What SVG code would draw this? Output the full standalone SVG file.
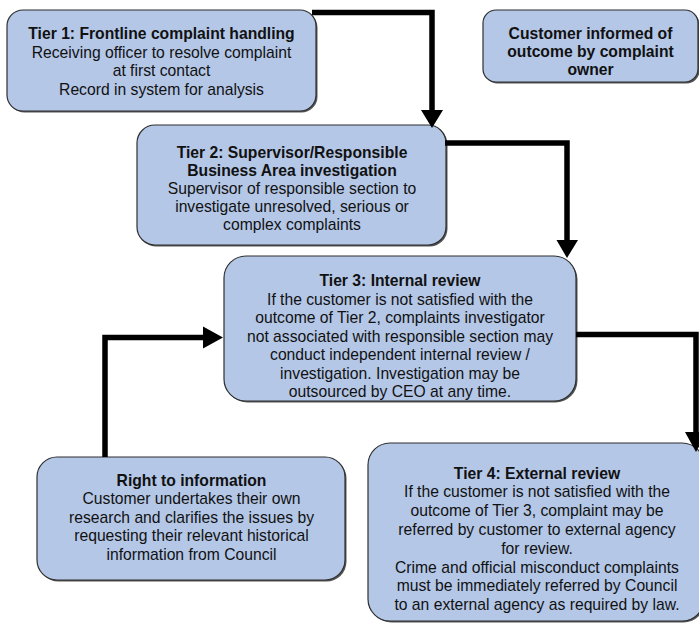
<svg xmlns="http://www.w3.org/2000/svg" width="699" height="625" viewBox="0 0 699 625">
<style>
.box{fill:#b4c7e7;stroke:#2f2f2f;stroke-width:1.2}
.sh{fill:#555}
text{font-family:"Liberation Sans",Arial,sans-serif;font-size:15.7px;fill:#111;text-anchor:middle}
.b{font-weight:bold}
.ln{fill:none;stroke:#000;stroke-width:5.5;stroke-linejoin:miter}
.hd{fill:#000}
</style>
<rect width="699" height="625" fill="#fff"/>
<g id="tier1">
<rect class="sh" x="8.5" y="11.5" width="309" height="101" rx="16"/>
<rect class="box" x="7" y="10" width="309" height="101" rx="16"/>
<text x="161.5" y="39" class="b">Tier 1: Frontline complaint handling</text>
<text x="161.5" y="57.5">Receiving officer to resolve complaint</text>
<text x="161.5" y="76">at first contact</text>
<text x="161.5" y="94.5">Record in system for analysis</text>
</g>
<g id="customer-informed">
<rect class="sh" x="484.5" y="11.5" width="215" height="72" rx="13"/>
<rect class="box" x="483" y="10" width="215" height="72" rx="13"/>
<text x="590.5" y="39" class="b">Customer informed of</text>
<text x="590.5" y="57" class="b">outcome by complaint</text>
<text x="590.5" y="75" class="b">owner</text>
</g>
<g id="tier2">
<rect class="sh" x="138.5" y="126.5" width="309" height="120" rx="18"/>
<rect class="box" x="137" y="125" width="309" height="120" rx="18"/>
<text x="292" y="157.5" class="b">Tier 2: Supervisor/Responsible</text>
<text x="292" y="175.5" class="b">Business Area investigation</text>
<text x="292" y="193.5">Supervisor of responsible section to</text>
<text x="292" y="211.5">investigate unresolved, serious or</text>
<text x="292" y="229.5">complex complaints</text>
</g>
<g id="tier3">
<rect class="sh" x="225.5" y="257.5" width="352" height="145" rx="22"/>
<rect class="box" x="224" y="256" width="352" height="145" rx="22"/>
<text x="400" y="286" class="b">Tier 3: Internal review</text>
<text x="400" y="304.5">If the customer is not satisfied with the</text>
<text x="400" y="323">outcome of Tier 2, complaints investigator</text>
<text x="400" y="341.5">not associated with responsible section may</text>
<text x="400" y="360">conduct independent internal review /</text>
<text x="400" y="378.5">investigation. Investigation may be</text>
<text x="400" y="397">outsourced by CEO at any time.</text>
</g>
<g id="right-to-information">
<rect class="sh" x="38.5" y="458.5" width="308" height="123" rx="20"/>
<rect class="box" x="37" y="457" width="308" height="123" rx="20"/>
<text x="191.5" y="485.5" class="b">Right to information</text>
<text x="191.5" y="504">Customer undertakes their own</text>
<text x="191.5" y="522.5">research and clarifies the issues by</text>
<text x="191.5" y="541">requesting their relevant historical</text>
<text x="191.5" y="559.5">information from Council</text>
</g>
<g id="tier4">
<rect class="sh" x="369.5" y="444.5" width="336" height="178" rx="22"/>
<rect class="box" x="368" y="443" width="336" height="178" rx="22"/>
<text x="537" y="478.5" class="b">Tier 4: External review</text>
<text x="537" y="497.3">If the customer is not satisfied with the</text>
<text x="537" y="516.1">outcome of Tier 3, complaint may be</text>
<text x="537" y="534.9">referred by customer to external agency</text>
<text x="537" y="553.7">for review.</text>
<text x="537" y="572.5">Crime and official misconduct complaints</text>
<text x="537" y="591.3">must be immediately referred by Council</text>
<text x="537" y="610.1">to an external agency as required by law.</text>
</g>
<g id="connectors">
<path class="ln" d="M312,12.5 H432 V111"/>
<polygon class="hd" points="421,110 443,110 432,128"/>
<path class="ln" d="M445,143 H567 V241"/>
<polygon class="hd" points="556.5,240 578,240 567,258"/>
<path class="ln" d="M576,334.5 H696 V433"/>
<polygon class="hd" points="685,432 707,432 696,452"/>
<path class="ln" d="M105,457 V337.5 H204"/>
<polygon class="hd" points="203,326.5 203,348.5 223,337.5"/>
</g>
</svg>
